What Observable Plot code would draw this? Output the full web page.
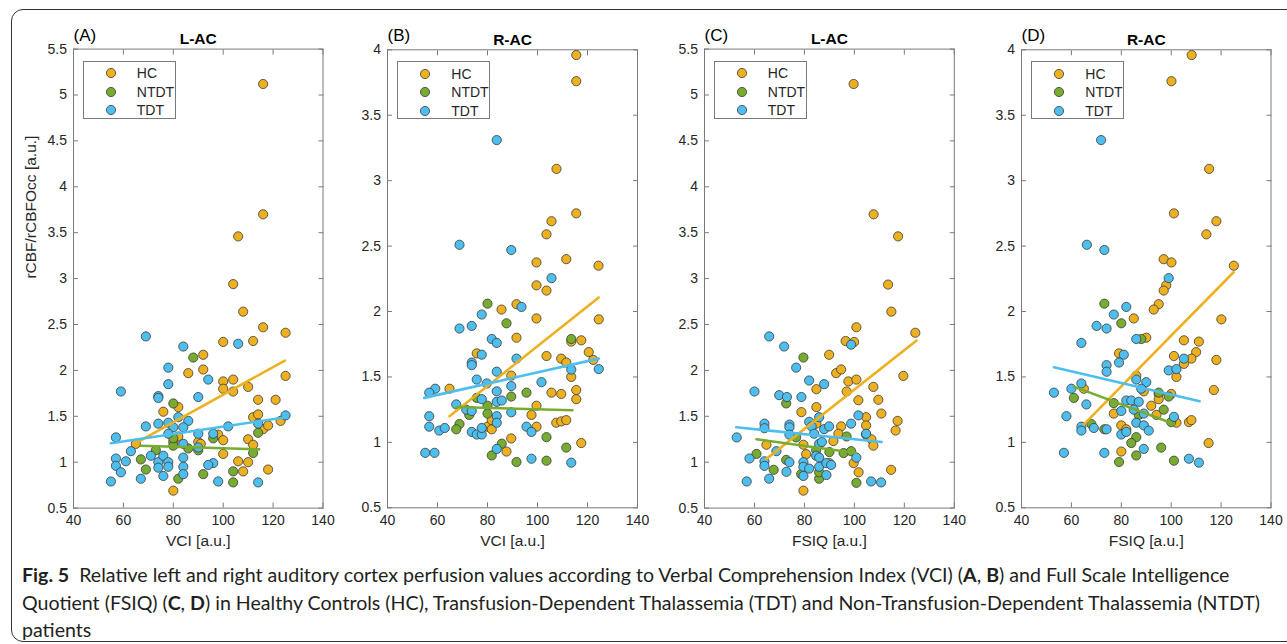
<!DOCTYPE html>
<html>
<head>
<meta charset="utf-8">
<script src="https://cdn.jsdelivr.net/npm/d3@7"></script>
<script src="https://cdn.jsdelivr.net/npm/@observablehq/plot@0.6"></script>
<style>
  html, body { margin: 0; padding: 0; background: #fff; }
  #root { position: relative; width: 1287px; height: 644px; overflow: hidden; background: #fff; font-family: "Liberation Sans", Arial, sans-serif; }
  .panel { position: absolute; top: 0; }
  .legend { position: absolute; box-sizing: border-box; border: 1px solid #7a7a7a; background: #fff; width: 93px; height: 58px; font-size: 14px; color: #262626; }
  .legend .row { position: absolute; left: 0; height: 14px; line-height: 14px; }
  .legend svg { position: absolute; left: 21px; top: 0; }
  .legend span { position: absolute; left: 53px; top: 0; white-space: nowrap; }
  #frameBorder { position: absolute; left: 11px; top: 9px; width: 1300px; height: 633px; border: 1px solid #333; border-radius: 12px; box-sizing: border-box; }
  #caption { position: absolute; left: 22px; top: 561px; font-family: Lato, "Open Sans", sans-serif; font-size: 19.6px; line-height: 27.5px; color: #231f20; white-space: nowrap; }
</style>
</head>
<body>
<div id="root">
  <div id="frameBorder"></div>
  <div id="caption"><b>Fig. 5</b>&nbsp; Relative left and right auditory cortex perfusion values according to Verbal Comprehension Index (VCI) (<b>A</b>, <b>B</b>) and Full Scale Intelligence<br>Quotient (FSIQ) (<b>C</b>, <b>D</b>) in Healthy Controls (HC), Transfusion-Dependent Thalassemia (TDT) and Non-Transfusion-Dependent Thalassemia (NTDT)<br>patients</div>
</div>
<script>
// ---------------- DATA ----------------
const groups = ["HC", "NTDT", "TDT"];
const groupColors = ["#EDB120", "#77AC30", "#4DBEEE"];
const xTicks = [40, 60, 80, 100, 120, 140];
const yTicksLAC = [0.5, 1, 1.5, 2, 2.5, 3, 3.5, 4, 4.5, 5, 5.5];
const yTicksRAC = [0.5, 1, 1.5, 2, 2.5, 3, 3.5, 4];
const panelLetters = ["(A)", "(B)", "(C)", "(D)"];
const panelTitles = ["L-AC", "R-AC", "L-AC", "R-AC"];
const xLabels = ["VCI [a.u.]", "VCI [a.u.]", "FSIQ [a.u.]", "FSIQ [a.u.]"];
const yLabel = "rCBF/rCBFOcc [a.u.]";

// Panel A: VCI vs L-AC
const A_HC = [[116,5.12],[116,3.70],[106,3.46],[104,2.94],[108,2.64],[116,2.47],[125,2.41],[100,2.31],[112,2.32],[92,2.17],[92,2.01],[86,1.97],[100,1.88],[104,1.90],[100,1.80],[104,1.77],[110,1.82],[114,1.68],[121,1.68],[125,1.94],[82,1.60],[76,1.55],[112,1.49],[114,1.52],[116,1.36],[118,1.40],[123,1.45],[98,1.30],[100,1.24],[110,1.25],[112,1.19],[100,1.09],[106,1.01],[110,1.0],[108,0.90],[118,0.92],[80,0.69],[65,1.20],[82,1.28],[80,1.22],[90,1.22],[91,1.20]];
const A_NTDT = [[88,2.14],[80,1.64],[114,1.32],[112,1.10],[96,1.26],[90,1.13],[86,1.15],[80,1.18],[67,1.03],[69,0.92],[73,1.13],[82,0.82],[92,0.87],[104,0.90],[104,0.78],[80,1.26]];
const A_TDT = [[69,2.37],[84,2.26],[78,2.03],[78,1.85],[94,1.90],[106,2.29],[59,1.77],[74,1.72],[74,1.70],[90,1.71],[82,1.49],[86,1.45],[84,1.38],[78,1.43],[74,1.42],[69,1.39],[57,1.27],[63,1.12],[57,1.04],[57,0.96],[59,0.89],[61,1.01],[55,0.79],[67,0.82],[71,1.07],[74,1.0],[74,0.94],[76,1.07],[76,0.85],[78,1.0],[78,0.95],[84,1.05],[84,0.95],[84,0.87],[90,1.31],[90,1.16],[96,1.31],[96,0.99],[94,0.97],[98,0.79],[102,1.39],[114,1.42],[114,0.78],[125,1.51],[80,1.38],[78,1.31],[84,1.20]];
const A_fit = [["HC",64.4,1.20,124.7,2.107],["TDT",55,1.207,125.3,1.49],["NTDT",67,1.18,114.4,1.14]];

// Panel B: VCI vs R-AC
const B_HC = [[115.5,3.96],[115.5,3.76],[107.6,3.09],[115.5,2.75],[105.6,2.69],[103.6,2.59],[99.6,2.375],[111.5,2.40],[124.4,2.35],[99.6,2.20],[103.6,2.16],[91.6,2.056],[85.6,2.015],[99.6,1.947],[91.6,1.80],[113.5,1.77],[117.5,1.78],[120.5,1.69],[122.3,1.63],[124.5,1.94],[75.7,1.68],[103.6,1.66],[109.5,1.64],[111.5,1.61],[113.5,1.50],[89.5,1.51],[64.8,1.41],[105.6,1.38],[109.5,1.37],[115.5,1.40],[115.5,1.33],[99.6,1.28],[97.6,1.21],[80,1.12],[81.7,1.10],[81.7,1.17],[99.6,1.12],[107.5,1.15],[109.5,1.16],[111.5,1.17],[89.5,1.03],[117.5,0.995],[87.6,0.93]];
const B_NTDT = [[80,2.06],[87.6,1.91],[113.5,1.79],[95.6,1.38],[89.5,1.35],[75.7,1.34],[72.7,1.21],[80,1.28],[80,1.22],[68.8,1.14],[67.5,1.10],[103.6,1.04],[85.7,0.99],[81.7,0.90],[111.5,0.96],[91.6,0.85],[103.6,0.86]];
const B_TDT = [[83.7,3.31],[68.8,2.51],[89.5,2.47],[105.6,2.255],[93.6,2.035],[77.7,1.977],[73.7,1.89],[68.8,1.87],[81.7,1.79],[83.7,1.76],[77.7,1.67],[73.7,1.61],[73.7,1.59],[91.6,1.64],[113.5,1.556],[124.5,1.56],[83.7,1.54],[75.7,1.48],[79.7,1.45],[89.5,1.43],[101.6,1.46],[59.1,1.41],[56.7,1.38],[83.7,1.39],[77.7,1.33],[83.7,1.31],[85.7,1.32],[67.5,1.29],[71.5,1.25],[73.7,1.24],[89.5,1.23],[56.7,1.20],[83.7,1.20],[83.7,1.15],[56.7,1.12],[60.7,1.09],[62.9,1.11],[73.7,1.08],[75.7,1.06],[77.7,1.06],[77.7,1.11],[95.6,1.12],[97.6,1.08],[83.7,0.95],[55.1,0.92],[58.8,0.92],[97.6,0.875],[113.5,0.845]];
const B_fit = [["HC",64.8,1.20,124.5,2.107],["TDT",54.7,1.34,124.5,1.64],["NTDT",67.5,1.27,114,1.245]];

// Panel C: FSIQ vs L-AC
const C_HC = [[99.7,5.12],[107.7,3.70],[117.5,3.46],[113.5,2.935],[114.8,2.64],[124.4,2.41],[100.8,2.47],[96.5,2.32],[99.9,2.31],[89.9,2.17],[92.7,1.97],[94.7,2.01],[97.6,1.88],[100.8,1.90],[84.8,1.795],[96.9,1.77],[107.6,1.82],[101.6,1.675],[109.6,1.68],[119.6,1.94],[84.8,1.60],[78.8,1.545],[110.8,1.53],[104.7,1.49],[117.3,1.45],[104.7,1.40],[116.5,1.345],[94.7,1.39],[93.6,1.31],[104.7,1.30],[106.8,1.25],[107.6,1.18],[91.6,1.23],[79.6,1.19],[64.8,1.19],[80.7,1.087],[99.7,0.99],[101.7,0.89],[114.7,0.917],[79.6,0.69],[84.8,1.42],[90,0.99]];
const C_NTDT = [[79.6,2.14],[72.7,1.64],[60.8,1.09],[72.7,1.025],[67.7,0.917],[78.7,0.87],[85.9,0.82],[85.9,0.89],[96.9,1.28],[95.7,1.10],[98.7,1.12],[100.8,0.775],[84.7,1.13],[90,1.11],[76.7,1.27]];
const C_TDT = [[65.9,2.37],[71.9,2.26],[76.7,2.03],[81.9,1.89],[87.9,1.85],[98.7,2.28],[60,1.77],[69.9,1.73],[73,1.71],[78.8,1.71],[64,1.42],[64,1.37],[74,1.41],[74,1.38],[74,1.30],[52.9,1.27],[68.8,1.12],[58,1.04],[64,1.01],[64,0.96],[74,1.0],[72.8,0.895],[65.9,0.82],[56.9,0.79],[79.6,1.0],[79.6,0.95],[81.9,0.93],[79.6,0.85],[81.9,1.44],[82.9,1.39],[85.9,1.49],[83.9,1.31],[87.9,1.36],[89.9,1.39],[85.9,1.20],[87,1.22],[84.7,1.07],[85.9,1.05],[85.9,0.95],[88.8,0.99],[90.7,0.97],[88.8,0.86],[98.7,1.42],[101.6,1.51],[104.7,1.31],[100.8,1.05],[106.7,0.79],[110.7,0.78]];
const C_fit = [["HC",64.8,1.036,124.9,2.325],["TDT",52.7,1.38,110.9,1.22],["NTDT",60.8,1.25,100.7,1.10]];

// Panel D: FSIQ vs R-AC
const D_HC = [[108.2,3.96],[100.1,3.76],[115.2,3.09],[101.1,2.75],[118.1,2.69],[114.1,2.59],[97,2.40],[100.1,2.375],[125.1,2.35],[98,2.20],[97,2.16],[95,2.056],[93,2.015],[85,1.947],[90,1.80],[105.1,1.78],[111.1,1.77],[110,1.69],[108.1,1.64],[118.1,1.63],[120.1,1.94],[79.1,1.68],[101.1,1.66],[105.1,1.60],[102.1,1.50],[86,1.51],[65,1.41],[89,1.39],[95,1.37],[95,1.33],[100,1.37],[117.1,1.40],[92,1.28],[94.1,1.21],[77,1.22],[102.1,1.15],[107.1,1.155],[108.1,1.17],[80,1.13],[82,1.10],[115,0.995],[80,0.93]];
const D_NTDT = [[73.2,2.06],[80,1.91],[88,1.79],[95,1.38],[99,1.35],[61,1.34],[77,1.30],[97,1.25],[87,1.21],[100,1.155],[68,1.14],[73.2,1.10],[86,1.04],[84,0.995],[96,0.96],[86,0.90],[79.1,0.85],[101.1,0.86]];
const D_TDT = [[71.9,3.31],[66.2,2.51],[73.2,2.47],[99,2.255],[82,2.035],[77,1.977],[74.1,1.87],[70.1,1.89],[86,1.79],[64,1.76],[81,1.67],[74.1,1.59],[74.1,1.54],[79.1,1.61],[105.1,1.64],[99,1.55],[102.1,1.56],[86,1.48],[90,1.46],[64,1.45],[60,1.41],[53,1.38],[88,1.41],[66,1.29],[82,1.32],[84,1.32],[87,1.31],[80,1.24],[85,1.25],[89,1.22],[58,1.20],[101.1,1.195],[64,1.12],[64,1.09],[69,1.11],[74.1,1.10],[86,1.15],[89,1.13],[91,1.09],[80,1.06],[82,1.08],[57,0.92],[73.2,0.92],[89,0.95],[107.1,0.875],[111.1,0.845]];
const D_fit = [["HC",65,1.137,125,2.30],["TDT",53,1.574,111.4,1.315],["NTDT",61,1.426,101.1,1.14]];

// ---------------- LAYOUT ----------------
const panelBoxes = [
  {left: 72.5, right: 322, top: 48.6, bottom: 507.6},
  {left: 387, right: 637, top: 49.3, bottom: 507.3},
  {left: 703.5, right: 953.3, top: 48.6, bottom: 507.6},
  {left: 1021, right: 1270.5, top: 49.3, bottom: 507.3}
];
const ML = 60, MR = 14, H = 560;
const AXIS = "#7a7a7a", TEXT = "#262626";
const FONT = "'Liberation Sans', Arial, Helvetica, sans-serif";
const color = Plot.scale({color: {domain: groups, range: groupColors}});

const panels = [
  {hc: A_HC, ntdt: A_NTDT, tdt: A_TDT, fit: A_fit, yDomain: [0.5, 5.5], yTicks: yTicksLAC, yLabel: yLabel},
  {hc: B_HC, ntdt: B_NTDT, tdt: B_TDT, fit: B_fit, yDomain: [0.5, 4], yTicks: yTicksRAC, yLabel: null},
  {hc: C_HC, ntdt: C_NTDT, tdt: C_TDT, fit: C_fit, yDomain: [0.5, 5.5], yTicks: yTicksLAC, yLabel: null},
  {hc: D_HC, ntdt: D_NTDT, tdt: D_TDT, fit: D_fit, yDomain: [0.5, 4], yTicks: yTicksRAC, yLabel: null}
];

const root = document.getElementById("root");

panels.forEach((p, i) => {
  const box = panelBoxes[i];
  const pts = [
    ...p.hc.map(([x, y]) => ({g: "HC", x, y})),
    ...p.ntdt.map(([x, y]) => ({g: "NTDT", x, y})),
    ...p.tdt.map(([x, y]) => ({g: "TDT", x, y}))
  ];
  const fitPts = p.fit.flatMap(([g, x0, y0, x1, y1]) => [{g, x: x0, y: y0}, {g, x: x1, y: y1}]);
  const marks = [
    Plot.frame({stroke: AXIS, strokeWidth: 1}),
    Plot.axisX({ticks: xTicks, tickSize: -5, tickPadding: 12, stroke: AXIS, fill: TEXT, label: null}),
    Plot.axisX({anchor: "top", ticks: xTicks, tickSize: -5, tickFormat: () => "", label: null, stroke: AXIS}),
    Plot.axisY({ticks: p.yTicks, tickSize: -5, tickPadding: 11.5, stroke: AXIS, fill: TEXT, tickFormat: d => String(d), label: null}),
    Plot.axisY({anchor: "right", ticks: p.yTicks, tickSize: -5, tickFormat: () => "", label: null, stroke: AXIS}),
    Plot.dot(pts, {x: "x", y: "y", fill: "g", r: 4.6, stroke: "#3a3a3a", strokeWidth: 0.8}),
    Plot.line(fitPts, {x: "x", y: "y", z: "g", stroke: "g", strokeWidth: 2.6}),
    Plot.text([xLabels[i]], {frameAnchor: "bottom", lineAnchor: "middle", dy: 33, fontSize: 15.5, fill: TEXT}),
    Plot.text([panelTitles[i]], {frameAnchor: "top", lineAnchor: "middle", dy: -10, fontWeight: "bold", fontSize: 15.5, fill: "#000"}),
    Plot.text([panelLetters[i]], {frameAnchor: "top-left", textAnchor: "start", lineAnchor: "middle", dy: -14, fontSize: 17, fill: "#000"})
  ];
  if (p.yLabel) {
    marks.push(Plot.text([p.yLabel], {frameAnchor: "left", rotate: -90, lineAnchor: "middle", dx: -42.5, fontSize: 15.5, fill: TEXT}));
  }
  const chart = Plot.plot({
    width: (box.right - box.left) + ML + MR,
    height: H,
    marginLeft: ML,
    marginRight: MR,
    marginTop: box.top,
    marginBottom: H - box.bottom,
    style: {fontFamily: FONT, fontSize: "14px", background: "transparent", overflow: "visible"},
    x: {domain: [40, 140]},
    y: {domain: p.yDomain},
    color: {domain: groups, range: groupColors},
    marks
  });
  const wrap = document.createElement("div");
  wrap.className = "panel";
  wrap.style.left = (box.left - ML) + "px";
  wrap.appendChild(chart);
  root.appendChild(wrap);

  // legend box inside axes (top-left)
  const lg = document.createElement("div");
  lg.className = "legend";
  lg.style.left = (box.left + 10.3) + "px";
  lg.style.top = (box.top + 12) + "px";
  const rowCenters = [11.6, 30, 48.3];
  groups.forEach((g, k) => {
    const row = document.createElement("div");
    row.className = "row";
    row.style.top = (rowCenters[k] - 7) + "px";
    row.innerHTML = `<svg width="12" height="14"><circle cx="6" cy="7" r="4.6" fill="${color.apply(g)}" stroke="#3a3a3a" stroke-width="0.8"/></svg><span>${g}</span>`;
    lg.appendChild(row);
  });
  root.appendChild(lg);
});
</script>
</body>
</html>
